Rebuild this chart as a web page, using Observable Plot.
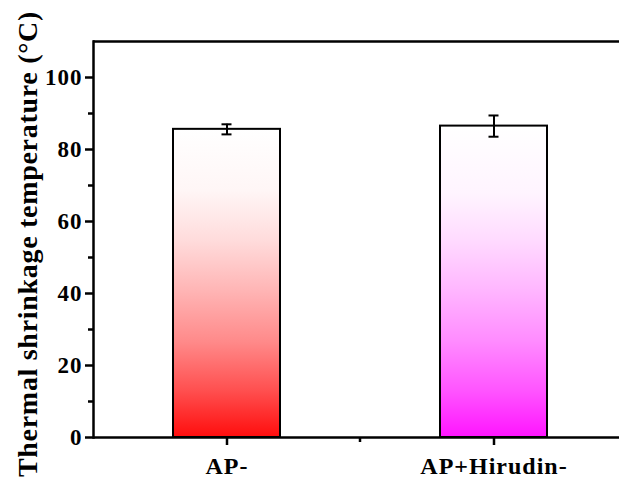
<!DOCTYPE html>
<html><head><meta charset="utf-8">
<script src="https://cdn.jsdelivr.net/npm/d3@7"></script>
<script src="https://cdn.jsdelivr.net/npm/@observablehq/plot@0.6"></script>
<style>body{margin:0;background:#fff} svg{display:block} svg text{font-family:"Liberation Serif","Times New Roman",Times,serif !important;}</style>
</head><body><div id="chart"></div>
<script>
const categories = ["AP-", "AP+Hirudin-"];
const means = [85.6, 86.5];
const errors = [1.4, 2.95];
const yMajorTicks = [0, 20, 40, 60, 80, 100];
const yMinorTicks = [10, 30, 50, 70, 90];
const yLabel = "Thermal shrinkage temperature (°C)";
const gradientIds = ["gradRed", "gradMagenta"];
const stopsRed = [[0,"#ff0d0d"],[0.15,"#ff4f4f"],[0.31,"#ff8a8a"],[0.48,"#ffb6b6"],[0.64,"#ffdcdc"],[0.8,"#fff6f6"],[1,"#ffffff"]];
const stopsMagenta = [[0,"#ff14ff"],[0.15,"#ff55ff"],[0.31,"#ff8cff"],[0.48,"#ffb8ff"],[0.64,"#ffdcff"],[0.78,"#fff4ff"],[1,"#ffffff"]];

const data = categories.map((c, i) => ({
  cat: c, mean: means[i], lo: means[i] - errors[i], hi: means[i] + errors[i],
  fill: `url(#${gradientIds[i]})`
}));

const ns = "http://www.w3.org/2000/svg";
function gradientDefs() {
  const defs = document.createElementNS(ns, "defs");
  [[gradientIds[0], stopsRed], [gradientIds[1], stopsMagenta]].forEach(([id, stops]) => {
    const g = document.createElementNS(ns, "linearGradient");
    g.setAttribute("id", id);
    g.setAttribute("x1", "0"); g.setAttribute("y1", "1");
    g.setAttribute("x2", "0"); g.setAttribute("y2", "0");
    stops.forEach(([o, c]) => {
      const s = document.createElementNS(ns, "stop");
      s.setAttribute("offset", o);
      s.setAttribute("stop-color", c);
      g.appendChild(s);
    });
    defs.appendChild(g);
  });
  return defs;
}

function midTick(index, scales, values, dims) {
  const x = scales.x;
  let bw = x.bandwidth;
  bw = typeof bw === "function" ? bw() : (bw || 0);
  const mx = (x(categories[0]) + x(categories[1])) / 2 + bw / 2;
  const y0 = scales.y(0);
  const line = document.createElementNS(ns, "line");
  line.setAttribute("x1", mx); line.setAttribute("x2", mx);
  line.setAttribute("y1", y0); line.setAttribute("y2", y0 + 5);
  line.setAttribute("stroke", "black");
  line.setAttribute("stroke-width", 2.5);
  return line;
}

const font = "'Liberation Serif', 'Times New Roman', serif";

const chart = Plot.plot({
  width: 619,
  height: 481,
  marginLeft: 93,
  marginRight: 0,
  marginTop: 41,
  marginBottom: 44,
  style: {fontFamily: font, color: "black", background: "white"},
  x: {domain: categories, range: [93, 627], paddingInner: 0.6, paddingOuter: 0.3},
  y: {domain: [0, 110]},
  color: {type: "identity"},
  marks: [
    gradientDefs,
    Plot.barY(data, {x: "cat", y: "mean", fill: "fill", stroke: "black", strokeWidth: 2}),
    Plot.ruleX(data, {x: "cat", y1: "lo", y2: "hi", stroke: "black", strokeWidth: 2}),
    Plot.tickY(data, {x: "cat", y: "lo", insetLeft: 48.5, insetRight: 48.5, stroke: "black", strokeWidth: 2}),
    Plot.tickY(data, {x: "cat", y: "hi", insetLeft: 48.5, insetRight: 48.5, stroke: "black", strokeWidth: 2}),
    Plot.ruleY([0], {stroke: "black", strokeWidth: 2.5}),
    Plot.ruleY([110], {stroke: "black", strokeWidth: 2.5}),
    Plot.frame({anchor: "left", stroke: "black", strokeWidth: 2.5}),
    Plot.axisY({ticks: yMajorTicks, tickSize: 8, tickPadding: 3, fontSize: 23, fontWeight: "bold", label: null, strokeWidth: 2.5}),
    Plot.axisY({ticks: yMinorTicks, tickSize: 5, text: null, label: null, strokeWidth: 2.5}),
    Plot.axisX({tickSize: 8, tickPadding: 11, fontSize: 24, fontWeight: "bold", label: null, strokeWidth: 2.5}),
    midTick,
    Plot.text([yLabel], {text: d => d, frameAnchor: "left", textAnchor: "middle", rotate: -90, dx: -65, dy: 4.5, fontSize: 28, fontWeight: "bold", lineAnchor: "middle", fill: "black"})
  ]
});

chart.querySelectorAll('[aria-label="x-axis tick label"] text').forEach(t => t.setAttribute("letter-spacing", "1"));
chart.querySelectorAll('[aria-label="y-axis tick label"] text').forEach(t => t.setAttribute("letter-spacing", "1"));
chart.querySelectorAll('[aria-label="text"] text').forEach(t => t.setAttribute("letter-spacing", "0.7"));
document.getElementById("chart").appendChild(chart);
</script>
</body></html>
